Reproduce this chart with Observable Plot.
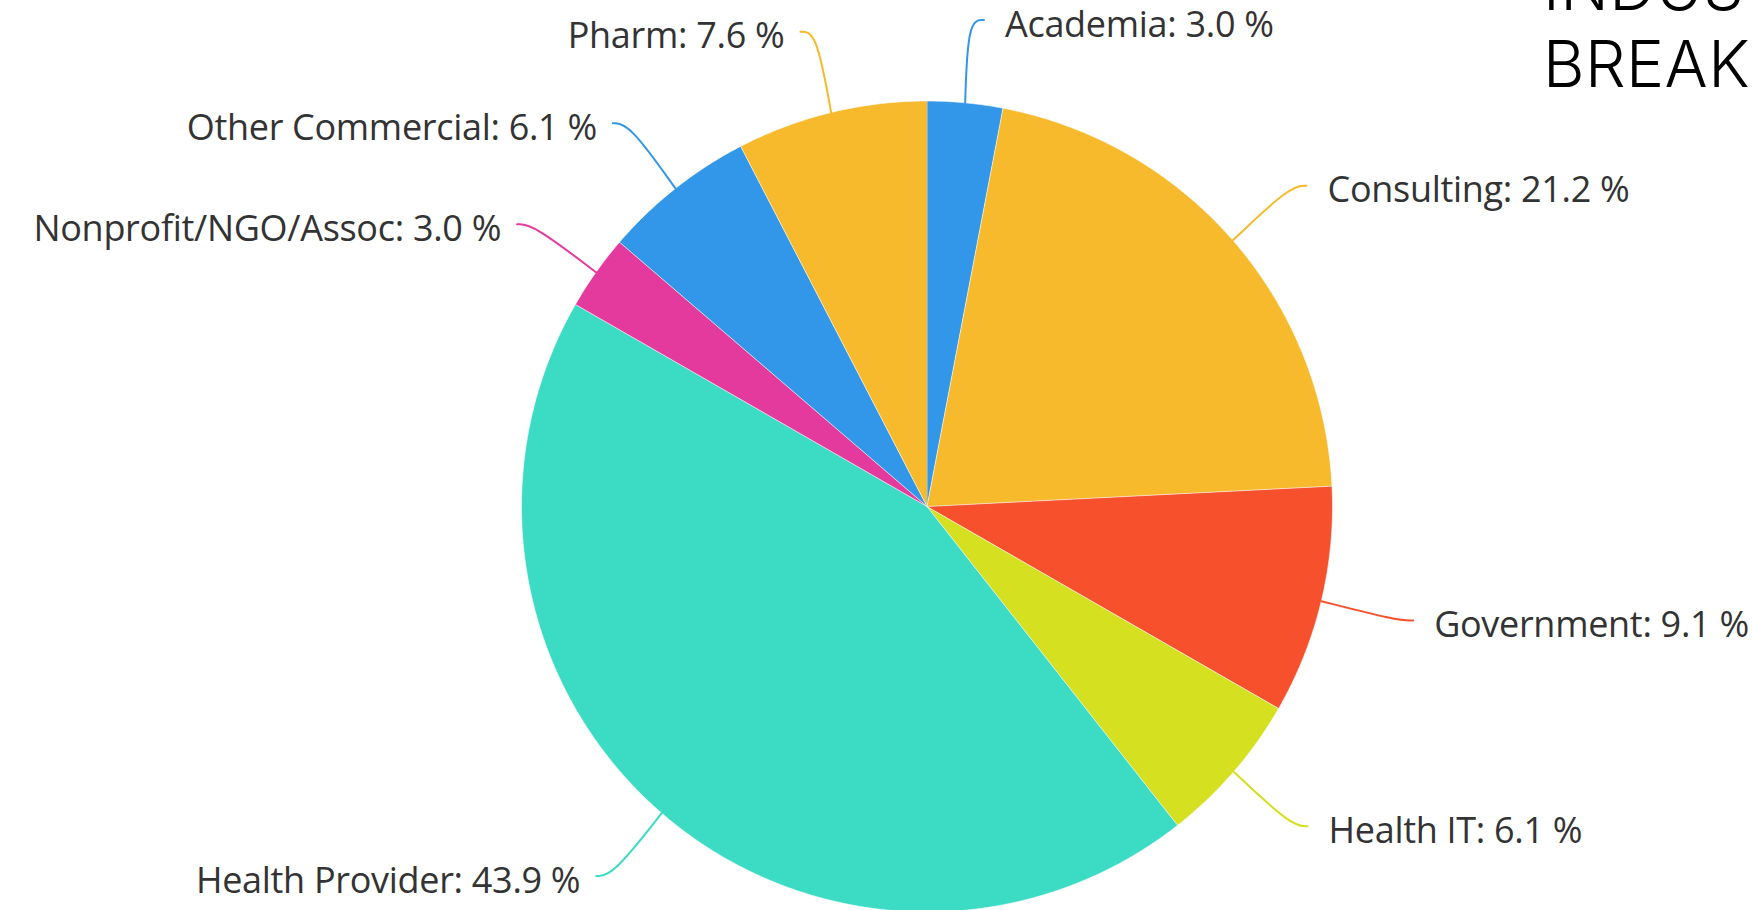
<!DOCTYPE html>
<html>
<head>
<meta charset="utf-8">
<script src="https://cdn.jsdelivr.net/npm/d3@7"></script>
<script src="https://cdn.jsdelivr.net/npm/@observablehq/plot@0.6"></script>
<style>
  html, body { margin: 0; padding: 0; background: #fff; overflow: hidden; }
  #wrap { position: relative; width: 1753px; height: 910px; overflow: hidden; }
  #title { position: absolute; left: 1543px; top: -52px; font-family: Inter, sans-serif; font-weight: 300;
           font-size: 64px; line-height: 77px; color: #000; white-space: nowrap; }
  #chart svg g[aria-label="text"] text { letter-spacing: -0.3px; }
</style>
</head>
<body>
<div id="wrap">
  <div id="chart"></div>
  <div id="title">INDUSTRY<br>BREAKDOWN</div>
</div>
<script>
const categories = ["Academia", "Consulting", "Government", "Health IT", "Health Provider", "Nonprofit/NGO/Assoc", "Other Commercial", "Pharm"];
const values = [3.0, 21.2, 9.1, 6.1, 43.9, 3.0, 6.1, 7.6];
const colors = ["#3296E9", "#F6BA2C", "#F6502C", "#D5E021", "#3CDBC3", "#E43A9D", "#3296E9", "#F6BA2C"];

const W = 1753, H = 910;
const cx = 926.5, cy = 506, R = 405.5;
const total = d3.sum(values);

// Build slice polygons and leader lines from the data
const slices = [];
const leaders = [];
const labels = [];
let acc = 0;
values.forEach((v, i) => {
  const name = categories[i];
  const a0 = acc / total * 2 * Math.PI;
  const a1 = (acc + v) / total * 2 * Math.PI;
  acc += v;
  slices.push({name, x: 0, y: 0});
  const n = Math.max(2, Math.ceil((a1 - a0) / (Math.PI / 360)));
  for (let k = 0; k <= n; ++k) {
    const a = a0 + (a1 - a0) * k / n;
    slices.push({name, x: Math.sin(a), y: -Math.cos(a)});
  }
  const m = (a0 + a1) / 2;
  const s = Math.sin(m) >= 0 ? 1 : -1;
  const rx = Math.sin(m) * 1.205, ry = -Math.cos(m) * 1.205;
  const ex = rx + s * 11 / R, ey = ry;
  leaders.push({name, x: Math.sin(m), y: -Math.cos(m)});
  leaders.push({name, x: rx - s * 5 / R, y: ey});
  leaders.push({name, x: ex, y: ey});
  labels.push({name, x: ex, y: ey, side: s, text: `${name}: ${v.toFixed(1)} %`});
});

const font = "'Open Sans', 'Noto Sans', sans-serif";
const chart = Plot.plot({
  width: W,
  height: H,
  margin: 0,
  x: {type: "linear", domain: [-cx / R, (W - cx) / R], range: [0, W], axis: null},
  y: {type: "linear", domain: [-cy / R, (H - cy) / R], range: [0, H], axis: null},
  color: {type: "ordinal", domain: categories, range: colors},
  marks: [
    Plot.line(slices, {x: "x", y: "y", z: "name", fill: "name", stroke: "#fff", strokeWidth: 1, strokeOpacity: 0.6}),
    Plot.line(leaders, {x: "x", y: "y", z: "name", stroke: "name", strokeWidth: 2, curve: "basis"}),
    Plot.text(labels.filter(d => d.side > 0), {x: "x", y: "y", text: "text", textAnchor: "start", dx: 21, dy: 5, lineAnchor: "middle",
      fontSize: 36, fontFamily: font, fill: "#333"}),
    Plot.text(labels.filter(d => d.side < 0), {x: "x", y: "y", text: "text", textAnchor: "end", dx: -16, dy: 5, lineAnchor: "middle",
      fontSize: 36, fontFamily: font, fill: "#333"})
  ]
});
document.getElementById("chart").appendChild(chart);

// Fit the title's letter spacing so that "BREAK" spans the same width as in the reference
const probe = document.createElement("span");
probe.textContent = "BREAK";
probe.style.cssText = "position:absolute;visibility:hidden;font-family:Inter,sans-serif;font-weight:300;font-size:64px;white-space:nowrap;";
document.body.appendChild(probe);
const w = probe.getBoundingClientRect().width;
probe.remove();
const target = 207;
document.getElementById("title").style.letterSpacing = ((target - w) / 5).toFixed(2) + "px";
</script>
</body>
</html>
